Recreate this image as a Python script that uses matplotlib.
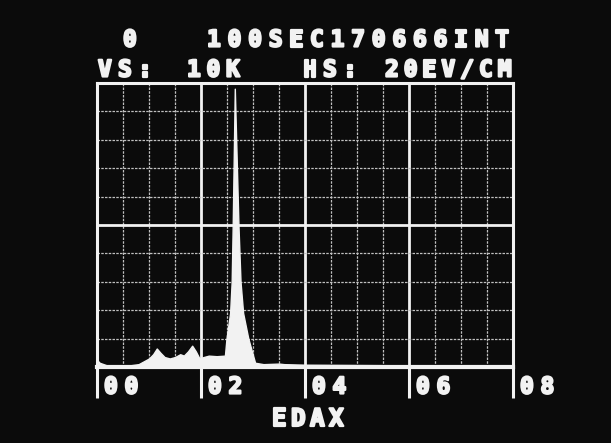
import numpy as np
import matplotlib.pyplot as plt
import matplotlib.patheffects as pe

# spectrum (energy in keV, counts in K)
energy = [0.0, 0.05, 0.2, 0.6, 0.8, 0.9, 1.0, 1.08, 1.15, 1.22, 1.3, 1.4, 1.5, 1.6,
          1.67, 1.75, 1.83, 1.9, 1.97, 2.05, 2.15, 2.3, 2.46, 2.49, 2.56, 2.59, 2.61,
          2.65, 2.72, 2.76, 2.81, 2.91, 3.04, 3.2, 3.5, 3.6, 4.0, 5.0, 6.0, 7.0, 7.8]
counts = [0.25, 0.15, 0.05, 0.05, 0.1, 0.2, 0.3, 0.45, 0.65, 0.5, 0.35, 0.3, 0.35, 0.45,
          0.4, 0.55, 0.75, 0.55, 0.3, 0.35, 0.4, 0.38, 0.4, 1.0, 1.9, 3.0, 5.0,
          9.8, 5.0, 3.0, 1.9, 1.0, 0.15, 0.1, 0.12, 0.1, 0.08, 0.07, 0.06, 0.05, 0.05]

x_major = [0, 2, 4, 6, 8]
x_labels = ["00", "02", "04", "06", "08"]
header_left = "0"
header_right = "100SEC170666INT"
scale_words = ["VS:", "10K", "HS:", "20EV/CM"]
footer = "EDAX"

W, H = 611, 443
BG = "#0b0b0b"
FG = "#f2f2f2"

fig = plt.figure(figsize=(W / 100, H / 100), dpi=100, facecolor=BG)
ax = fig.add_axes([97 / W, 76 / H, 416 / W, 284 / H])
ax.set_facecolor(BG)
ax.set_xlim(0, 8)
ax.set_ylim(0, 10)

# screen graticule
ax.set_xticks(x_major)
ax.set_xticks(np.arange(0, 8.01, 0.5), minor=True)
ax.set_yticks([0, 5, 10])
ax.set_yticks(np.arange(0, 10.01, 1), minor=True)
ax.grid(which="minor", color="#c0c0c0", lw=0.9, ls=(0, (2, 1)))
ax.grid(which="major", color=FG, lw=2.0, ls="-")
ax.tick_params(axis="x", which="major", direction="out", length=22, width=2.2,
               color=FG, labelbottom=False)
ax.tick_params(axis="x", which="minor", length=0)
ax.tick_params(axis="y", which="both", length=0, labelleft=False)
for s in ax.spines.values():
    s.set_color(FG)
    s.set_linewidth(2.2)
ax.spines["bottom"].set_linewidth(3)

ax.fill_between(energy, counts, 0, color=FG, lw=1, zorder=3)

thick = [pe.withStroke(linewidth=1.6, foreground=FG)]


def mono(s, x0, y0, pitch=20.4, size=16.5):
    # character-cell display text, one cell per character
    for i, ch in enumerate(s):
        if ch != " ":
            fig.text((x0 + i * pitch) / W, 1 - y0 / H, ch, color=FG, fontsize=size,
                     family="DejaVu Sans Mono", weight="bold", ha="left", va="center",
                     path_effects=thick)


mono(header_left, 123, 40)
mono(header_right, 207, 40, pitch=20.6)
for word, xp, p in zip(scale_words, [98, 187, 303, 385], [20, 19.5, 20, 18.8]):
    mono(word, xp, 70, pitch=p)

for xv, lab in zip(x_major, x_labels):
    mono(lab, 97 + xv / 8 * 416 + 7, 387, pitch=20.5)

mono(footer, 272, 419, pitch=19, size=17.5)

fig.savefig("out.png", dpi=100, facecolor=BG)
